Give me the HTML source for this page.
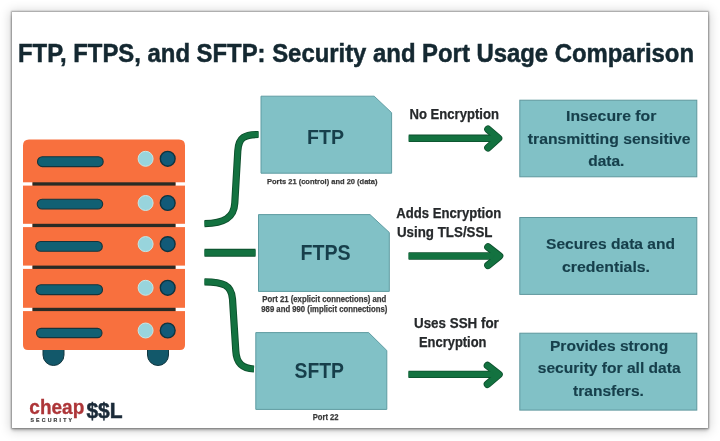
<!DOCTYPE html>
<html><head><meta charset="utf-8">
<style>
html,body{margin:0;padding:0;background:#fff;width:720px;height:441px;overflow:hidden;}
.card{position:absolute;left:12px;top:12px;width:696px;height:416px;background:#fff;
box-shadow:0 0 1.5px 0.6px rgba(0,0,0,0.33),0 2.5px 3px rgba(0,0,0,0.2),0 1px 10px 2px rgba(0,0,0,0.17);}
svg{position:absolute;left:0;top:0;will-change:transform;}
text{font-family:"Liberation Sans",sans-serif;font-weight:bold;}
</style></head>
<body>
<div class="card"></div>
<svg width="720" height="441" viewBox="0 0 720 441">
<!-- title -->
<text x="18" y="61.8" font-size="25.5" fill="#142831" stroke="#142831" stroke-width="0.5" textLength="676" lengthAdjust="spacingAndGlyphs">FTP, FTPS, and SFTP: Security and Port Usage Comparison</text>

<!-- server -->
<g>
<rect x="43" y="338" width="21" height="27.5" rx="10.5" fill="#12586a" stroke="#12363f" stroke-width="1"/>
<rect x="147.5" y="338" width="21" height="27.5" rx="10.5" fill="#12586a" stroke="#12363f" stroke-width="1"/>
<path d="M29 139.4 L179 139.4 Q185 139.4 185 145.4 L185 345 Q185 350 180 350 L28 350 Q23 350 23 345 L23 145.4 Q23 139.4 29 139.4 Z" fill="#f8703e"/>
<g fill="#fff">
<rect x="22" y="182.3" width="10.5" height="3.3"/><rect x="175.5" y="182.3" width="10.5" height="3.3"/>
<rect x="22" y="223.8" width="10.5" height="3.3"/><rect x="175.5" y="223.8" width="10.5" height="3.3"/>
<rect x="22" y="265.6" width="10.5" height="3.3"/><rect x="175.5" y="265.6" width="10.5" height="3.3"/>
<rect x="22" y="307.8" width="10.5" height="3.3"/><rect x="175.5" y="307.8" width="10.5" height="3.3"/>
</g>
<g fill="#2a2b25">
<rect x="32.5" y="182.3" width="143" height="3.3"/>
<rect x="32.5" y="223.8" width="143" height="3.3"/>
<rect x="32.5" y="265.6" width="143" height="3.3"/>
<rect x="32.5" y="307.8" width="143" height="3.3"/>
</g>
<g fill="#116073" stroke="#14343c" stroke-width="1.1">
<rect x="37.5" y="156.8" width="65.7" height="9.8" rx="4.9"/>
<rect x="37.2" y="199.2" width="65.5" height="9.8" rx="4.9"/>
<rect x="35.8" y="241.5" width="66.5" height="9.8" rx="4.9"/>
<rect x="36" y="284.8" width="66.5" height="9.8" rx="4.9"/>
<rect x="36.5" y="328.4" width="65.5" height="9.2" rx="4.6"/>
</g>
<g fill="#98d4dc" stroke="#c6e7e6" stroke-width="1">
<circle cx="145.6" cy="158.8" r="7.5"/><circle cx="145.6" cy="203" r="7.5"/><circle cx="145.6" cy="244.1" r="7.5"/><circle cx="145.6" cy="287.8" r="7.5"/><circle cx="145.6" cy="330.5" r="7.5"/>
</g>
<g fill="#125a78" stroke="#0e3440" stroke-width="1.4">
<circle cx="167.7" cy="158.8" r="7.4"/><circle cx="167.7" cy="203" r="7.4"/><circle cx="167.7" cy="244.1" r="7.4"/><circle cx="167.7" cy="287.8" r="7.4"/><circle cx="167.7" cy="330.5" r="7.4"/>
</g>
</g>

<!-- connectors -->
<g fill="none" stroke="#0d4f2c" stroke-width="7.2">
<path d="M258.5 134.5 C 245 134.5 238.5 137 237.8 151 L 234.8 203 C 234 218 224 223.2 204.5 223.6"/>
<path d="M204.5 252.7 L255.5 252.7" stroke-width="8"/>
<path d="M204.5 281.8 C 223 282 231.5 285 232.5 299 L 235.8 351 C 236.5 364 243 368.5 254 369"/>
</g>
<g fill="none" stroke="#137240" stroke-width="5.4">
<path d="M258.5 134.5 C 245 134.5 238.5 137 237.8 151 L 234.8 203 C 234 218 224 223.2 204.5 223.6"/>
<path d="M204.5 252.7 L255.5 252.7" stroke-width="6"/>
<path d="M204.5 281.8 C 223 282 231.5 285 232.5 299 L 235.8 351 C 236.5 364 243 368.5 254 369"/>
</g>

<!-- boxes -->
<g fill="#81c1c6" stroke="#5f9ca2" stroke-width="1" stroke-linejoin="round">
<path d="M261 96.2 L374.2 96.2 L391.6 112.7 L391.6 173.2 L261 173.2 Z"/>
<path d="M258.5 214.6 L370 214.6 L389.3 232.5 L389.3 291.4 L258.5 291.4 Z"/>
<path d="M255.8 332.6 L368.7 332.6 L386.8 350.5 L386.8 409.4 L255.8 409.4 Z"/>
</g>
<g fill="#81c1c6" stroke="#5f979d" stroke-width="1">
<rect x="519.8" y="100.2" width="177" height="76.6"/>
<rect x="519.8" y="217.5" width="177" height="76.9"/>
<rect x="519.8" y="333.2" width="177" height="76.9"/>
</g>

<g fill="#173f4b">
<text x="307" y="144.4" font-size="21" textLength="37" lengthAdjust="spacingAndGlyphs">FTP</text>
<text x="300.5" y="260.3" font-size="22" textLength="50.2" lengthAdjust="spacingAndGlyphs">FTPS</text>
<text x="294.5" y="378.3" font-size="21.3" textLength="49.5" lengthAdjust="spacingAndGlyphs">SFTP</text>
</g>

<g fill="#3a3a3a" stroke="#3a3a3a" stroke-width="0.25">
<text x="267" y="183.8" font-size="7.8" textLength="110.5" lengthAdjust="spacingAndGlyphs">Ports 21 (control) and 20 (data)</text>
<text x="262.3" y="301.8" font-size="8.2" textLength="124" lengthAdjust="spacingAndGlyphs">Port 21 (explicit connections) and</text>
<text x="261.3" y="311.9" font-size="8.2" textLength="126" lengthAdjust="spacingAndGlyphs">989 and 990 (implicit connections)</text>
<text x="312.8" y="419.6" font-size="8.3" textLength="25.8" lengthAdjust="spacingAndGlyphs">Port 22</text>
</g>

<g fill="#26292b" stroke="#26292b" stroke-width="0.25">
<text x="409.5" y="118.6" font-size="14.2" textLength="89.5" lengthAdjust="spacingAndGlyphs">No Encryption</text>
<text x="396.3" y="217.9" font-size="14.2" textLength="105" lengthAdjust="spacingAndGlyphs">Adds Encryption</text>
<text x="397" y="236.5" font-size="14.2" textLength="95.5" lengthAdjust="spacingAndGlyphs">Using TLS/SSL</text>
<text x="414" y="327.6" font-size="14.2" textLength="84.8" lengthAdjust="spacingAndGlyphs">Uses SSH for</text>
<text x="419" y="347" font-size="14.2" textLength="67.5" lengthAdjust="spacingAndGlyphs">Encryption</text>
</g>

<!-- arrows -->
<g fill="none" stroke="#0d4f2c" stroke-width="7.4">
<path d="M408.7 138.3 L497 138.3"/>
<path d="M408.6 256 L498 256"/>
<path d="M408.5 374.4 L497 374.4"/>
</g>
<g fill="none" stroke="#0d4f2c" stroke-width="7.6" stroke-linecap="round" stroke-linejoin="round">
<path d="M488 129.3 L498.5 138.3 L488 147.8"/>
<path d="M488 247 L499.5 256 L488 265.3"/>
<path d="M487.5 365.6 L499 374.4 L487.5 384.2"/>
</g>
<g fill="none" stroke="#137240" stroke-width="5.8">
<path d="M408.7 138.3 L497 138.3"/>
<path d="M408.6 256 L498 256"/>
<path d="M408.5 374.4 L497 374.4"/>
</g>
<g fill="none" stroke="#137240" stroke-width="6" stroke-linecap="round" stroke-linejoin="round">
<path d="M488 129.3 L498.5 138.3 L488 147.8"/>
<path d="M488 247 L499.5 256 L488 265.3"/>
<path d="M487.5 365.6 L499 374.4 L487.5 384.2"/>
</g>

<g fill="#163f4b" stroke="#163f4b" stroke-width="0.15">
<text x="566" y="120.6" font-size="14.5" textLength="90.4" lengthAdjust="spacingAndGlyphs">Insecure for</text>
<text x="527.8" y="144" font-size="14.5" textLength="162.8" lengthAdjust="spacingAndGlyphs">transmitting sensitive</text>
<text x="588.3" y="166.4" font-size="14.5" textLength="36.1" lengthAdjust="spacingAndGlyphs">data.</text>
<text x="546" y="248.9" font-size="14.5" textLength="129" lengthAdjust="spacingAndGlyphs">Secures data and</text>
<text x="562" y="271.7" font-size="14.5" textLength="88" lengthAdjust="spacingAndGlyphs">credentials.</text>
<text x="550" y="350.6" font-size="14.5" textLength="118.3" lengthAdjust="spacingAndGlyphs">Provides strong</text>
<text x="537.8" y="373.3" font-size="14.5" textLength="142.8" lengthAdjust="spacingAndGlyphs">security for all data</text>
<text x="573" y="396.4" font-size="14.5" textLength="70.9" lengthAdjust="spacingAndGlyphs">transfers.</text>
</g>

<!-- logo -->
<text x="29.3" y="413.6" font-size="20.5" fill="#ad3538" stroke="#ad3538" stroke-width="0.3" textLength="55" lengthAdjust="spacingAndGlyphs">cheap</text>
<text x="86.4" y="417.9" font-size="22" fill="#1a2a38" stroke="#1a2a38" stroke-width="0.5" textLength="36.2" lengthAdjust="spacingAndGlyphs">$$L</text>
<text x="30.4" y="422.4" font-size="5.2" fill="#3a3a3a" stroke="#3a3a3a" stroke-width="0.2" textLength="41.6" lengthAdjust="spacing">SECURITY</text>
</svg>
</body></html>
